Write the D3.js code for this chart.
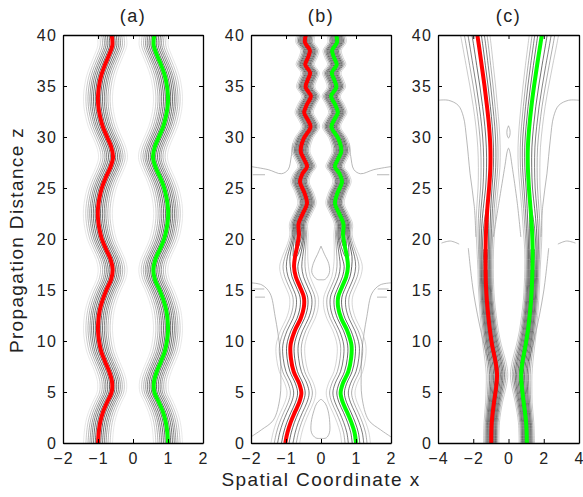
<!DOCTYPE html>
<html>
<head>
<meta charset="utf-8">
<script src="https://cdnjs.cloudflare.com/ajax/libs/d3/7.8.5/d3.min.js"></script>
<style>
body { margin: 0; background: #fff; }
text { font-family: "Liberation Sans", Arial, sans-serif; fill: #222; }
</style>
</head>
<body>
<script>
// ---- panel (a): breathing pair, period ~11 ----
var zA = [0,1,2,3,4,5,6,7,8,9,10,11,12,13,14,15,16,17,18,19,20,21,22,23,24,25,26,27,28,29,30,31,32,33,34,35,36,37,38,39,40];
var redA = [-1.00,-0.98,-0.94,-0.86,-0.74,-0.61,-0.60,-0.68,-0.80,-0.91,-0.97,-1.00,-0.99,-0.95,-0.87,-0.76,-0.63,-0.58,-0.64,-0.77,-0.89,-0.96,-1.00,-1.00,-0.96,-0.89,-0.78,-0.65,-0.57,-0.62,-0.74,-0.86,-0.94,-0.99,-1.00,-0.97,-0.91,-0.81,-0.69,-0.59,-0.61];
var greenA = [1.00,0.98,0.94,0.86,0.74,0.61,0.60,0.68,0.80,0.91,0.97,1.00,0.99,0.95,0.87,0.76,0.63,0.58,0.64,0.77,0.89,0.96,1.00,1.00,0.96,0.89,0.78,0.65,0.57,0.62,0.74,0.86,0.94,0.99,1.00,0.97,0.91,0.81,0.69,0.59,0.61];

// ---- panel (b) ----
var zB = [0,1,2,3,4,4.9,5.8,7,8.3,9.6,11,12.2,13.3,14.3,15.3,16.3,17.3,18.3,19.3,20.4,21.5,22.5,23.5,24.5,25.6,26.4,27.1,27.8,28.6,29.8,31,31.7,32.4,33.2,34,34.9,35.6,36.3,37.1,37.8,38.5,39.3,40];
var redB = [-1.02,-0.96,-0.87,-0.75,-0.62,-0.56,-0.62,-0.78,-0.86,-0.87,-0.75,-0.58,-0.49,-0.49,-0.60,-0.72,-0.77,-0.74,-0.68,-0.63,-0.64,-0.52,-0.40,-0.47,-0.60,-0.53,-0.40,-0.48,-0.58,-0.50,-0.30,-0.38,-0.48,-0.40,-0.29,-0.44,-0.38,-0.31,-0.45,-0.37,-0.32,-0.46,-0.43];
var greenB = [1.00,0.96,0.87,0.75,0.62,0.56,0.62,0.78,0.86,0.87,0.75,0.58,0.49,0.49,0.60,0.72,0.77,0.74,0.68,0.63,0.64,0.52,0.40,0.47,0.60,0.53,0.40,0.48,0.58,0.50,0.30,0.38,0.48,0.40,0.29,0.44,0.38,0.31,0.45,0.37,0.32,0.46,0.43];
var ampB = [0.6,0.6,0.6,0.6,0.6,0.6,0.6,0.6,0.6,0.6,0.6,0.6,0.6,0.6,0.6,0.6,0.6,0.7,0.85,1,1,1,1,1,1,1,1,1,1,1,1,1,1,1,1,1,1,1,1,1,1,1,1];
var widthB = [0.25,0.25,0.25,0.25,0.25,0.25,0.25,0.25,0.25,0.25,0.25,0.25,0.25,0.25,0.25,0.25,0.25,0.2,0.15,0.12,0.12,0.12,0.12,0.12,0.12,0.12,0.12,0.12,0.12,0.12,0.12,0.12,0.12,0.12,0.12,0.12,0.12,0.12,0.12,0.12,0.12,0.12,0.12];

// ---- panel (c) ----
var zC = [0,2,4,5.5,6.7,8,9.6,11,12.5,14,15.5,17,19,21,23,25,27,29,31,33,35,37,39,40];
var redC = [-0.98,-0.95,-0.82,-0.70,-0.65,-0.74,-0.93,-1.05,-1.15,-1.23,-1.28,-1.30,-1.30,-1.27,-1.20,-1.10,-1.03,-1.03,-1.10,-1.22,-1.36,-1.52,-1.68,-1.77];
var greenC = [1.04,1.00,0.86,0.76,0.72,0.80,0.97,1.10,1.20,1.28,1.33,1.36,1.37,1.33,1.25,1.16,1.10,1.10,1.18,1.30,1.45,1.62,1.80,1.89];
var ampC = [1,1,1,1,1,1,1,1,1,1,1,1,0.88,0.76,0.68,0.63,0.63,0.63,0.63,0.63,0.63,0.63,0.63,0.63];
var widthOutC = [0.2,0.2,0.22,0.26,0.28,0.27,0.24,0.22,0.21,0.2,0.2,0.2,0.24,0.3,0.34,0.37,0.4,0.42,0.44,0.46,0.49,0.52,0.55,0.56];
var widthInC = [0.2,0.2,0.22,0.26,0.28,0.27,0.24,0.22,0.21,0.2,0.2,0.2,0.22,0.26,0.28,0.3,0.32,0.33,0.34,0.35,0.37,0.39,0.41,0.42];

// contour levels (fraction of peak intensity) and their grey in each panel
var levels = [0.85, 0.65, 0.45, 0.3, 0.18, 0.1, 0.05];
var greyA = ['#000', '#111', '#333', '#555', '#808080', '#aaa', '#d8d8d8'];
var greyB = ['#000', '#000', '#111', '#000', '#222', '#777', '#bbb'];
var greyC = ['#000', '#111', '#222', '#111', '#333', '#777', '#aaa'];

// radiation contours, [x, z] points (drawn with their mirror image)
var radB = [
  [[-2,0.6],[-1.7,1.3],[-1.36,2.25],[-1.17,4.5],[-1.15,7],[-1.17,9.1],[-1.31,12.4],[-1.46,14.7],[-1.69,15.5],[-2,15.7]],
  [[-1.93,15.1],[-1.62,15.1]],
  [[-1.88,14.3],[-1.6,14.3]],
  [[-2,27.1],[-1.51,26.8],[-1.13,26.4],[-0.94,26.8],[-0.85,28.1],[-0.8,29.4]],
  [[-1.95,26.3],[-1.6,26.3]]
];
var radBCentre = [
  [[0,4.3],[0.12,3.9],[0.2,3.2],[0.25,2],[0.24,1],[0.15,0.5],[0,0.45],[-0.15,0.5],[-0.27,1],[-0.28,2],[-0.2,3.2],[-0.12,3.9],[0,4.3]],
  [[0,19.3],[0.1,18.5],[0.22,17.6],[0.24,16.7],[0.12,16.05],[0,16],[-0.12,16.05],[-0.26,16.7],[-0.22,17.6],[-0.1,18.5],[0,19.3]]
];
var radC = [
  [[-4,33.6],[-3.41,33.6],[-2.85,33.1],[-2.56,32],[-2.37,29.7],[-2.18,26.4],[-1.94,23.2],[-1.85,20.2]],
  [[-2.28,19.1],[-1.99,14.8],[-1.52,10.6],[-1.14,8]],
  [[-3.8,19.6],[-3.3,19.8],[-2.8,19.5]]
];
var radCCentre = [
  [[-0.86,20.2],[-0.55,23.5],[-0.2,27.2],[-0.07,28.6],[0,28.9],[0.07,28.6],[0.2,27.2],[0.5,23.5],[0.7,20.2]],
  [[0,31.1],[0.08,30.7],[0.08,30.2],[0,29.9],[-0.08,30.2],[-0.08,30.7],[0,31.1]]
];

var xTicksAB = [-2,-1,0,1,2];
var xTicksC = [-4,-2,0,2,4];
var zTicks = [0,5,10,15,20,25,30,35,40];

var W = 583, H = 497;
var topY = 35, bottomY = 443;
var svg = d3.select('body').append('svg').attr('width', W).attr('height', H);

var panels = [
  { name: '(a)', left: 63, width: 140, dom: [-2,2], ticks: xTicksAB, z: zA, red: redA, green: greenA, grey: greyA },
  { name: '(b)', left: 251, width: 140, dom: [-2,2], ticks: xTicksAB, z: zB, red: redB, green: greenB, amp: ampB, wOut: widthB, wIn: widthB, grey: greyB, rad: radB, radMid: radBCentre },
  { name: '(c)', left: 438, width: 141, dom: [-4,4], ticks: xTicksC, z: zC, red: redC, green: greenC, amp: ampC, wOut: widthOutC, wIn: widthInC, grey: greyC, rad: radC, radMid: radCCentre }
];

var y = d3.scaleLinear().domain([0, 40]).range([bottomY, topY]);
var fmt = d3.format('d');

panels.forEach(function (p, pi) {
  var x = d3.scaleLinear().domain(p.dom).range([p.left, p.left + p.width]);
  var g = svg.append('g');

  svg.append('clipPath').attr('id', 'clip' + pi)
    .append('rect').attr('x', p.left).attr('y', topY).attr('width', p.width).attr('height', bottomY - topY);
  var plot = g.append('g').attr('clip-path', 'url(#clip' + pi + ')');

  var line = d3.line()
    .defined(function (d) { return d !== null; })
    .x(function (d) { return x(d[0]); })
    .y(function (d) { return y(d[1]); })
    .curve(d3.curveCatmullRom);

  // radiation contours
  (p.rad || []).forEach(function (path) {
    [1, -1].forEach(function (s) {
      plot.append('path')
        .attr('d', line(path.map(function (d) { return [s * d[0], d[1]]; })))
        .attr('fill', 'none').attr('stroke', '#9a9a9a').attr('stroke-width', 0.7);
    });
  });
  (p.radMid || []).forEach(function (path) {
    plot.append('path').attr('d', line(path))
      .attr('fill', 'none').attr('stroke', '#9a9a9a').attr('stroke-width', 0.7);
  });

  // soliton contour lines: sech^2 profile of amplitude amp and width w
  [{ c: p.red, outer: -1 }, { c: p.green, outer: 1 }].forEach(function (sol) {
    levels.slice().reverse().forEach(function (L, k) {
      var li = levels.length - 1 - k;
      [-1, 1].forEach(function (side) {
        var pts = p.z.map(function (zv, i) {
          var a = p.amp ? p.amp[i] : 1;
          if (a * a <= L) return null;
          var w = p.wOut ? (side === sol.outer ? p.wOut[i] : p.wIn[i]) : 0.19;
          return [sol.c[i] + side * w * Math.acosh(a / Math.sqrt(L)), zv];
        });
        plot.append('path').attr('d', line(pts))
          .attr('fill', 'none').attr('stroke', p.grey[li]).attr('stroke-width', 0.6);
      });
    });
  });

  // centre tracks
  [{ c: p.red, col: '#ff0000' }, { c: p.green, col: '#00ff00' }].forEach(function (sol) {
    plot.append('path')
      .attr('d', line(p.z.map(function (zv, i) { return [sol.c[i], zv]; })))
      .attr('fill', 'none').attr('stroke', sol.col).attr('stroke-width', 4);
  });

  // axes, ticks inside on all four sides
  var ax = g.append('g').attr('class', 'axes');
  ax.append('g').attr('transform', 'translate(0,' + bottomY + ')')
    .call(d3.axisBottom(x).tickValues(p.ticks).tickFormat(fmt).tickSize(-4).tickSizeOuter(0).tickPadding(10));
  ax.append('g').attr('transform', 'translate(0,' + topY + ')')
    .call(d3.axisTop(x).tickValues(p.ticks).tickSize(-4).tickSizeOuter(0).tickFormat(''));
  ax.append('g').attr('transform', 'translate(' + p.left + ',0)')
    .call(d3.axisLeft(y).tickValues(zTicks).tickFormat(fmt).tickSize(-4).tickSizeOuter(0).tickPadding(6));
  ax.append('g').attr('transform', 'translate(' + (p.left + p.width) + ',0)')
    .call(d3.axisRight(y).tickValues(zTicks).tickSize(-4).tickSizeOuter(0).tickFormat(''));
  ax.selectAll('.domain').attr('stroke', '#000').attr('stroke-width', 1.3);
  ax.selectAll('.tick line').attr('stroke', '#000');
  ax.selectAll('.tick text').attr('font-size', 16).style('letter-spacing', '1.2px').attr('fill', '#222');

  g.append('text').attr('x', p.left + p.width / 2).attr('y', 22)
    .attr('text-anchor', 'middle').attr('font-size', 18).style('letter-spacing', '1.5px')
    .text(p.name);
});

svg.append('text').attr('x', 321).attr('y', 486).attr('text-anchor', 'middle')
  .attr('font-size', 19).style('letter-spacing', '1.4px').text('Spatial Coordinate x');
svg.append('text').attr('transform', 'translate(23,240) rotate(-90)').attr('text-anchor', 'middle')
  .attr('font-size', 19).style('letter-spacing', '1.35px').text('Propagation Distance z');
</script>
</body>
</html>
